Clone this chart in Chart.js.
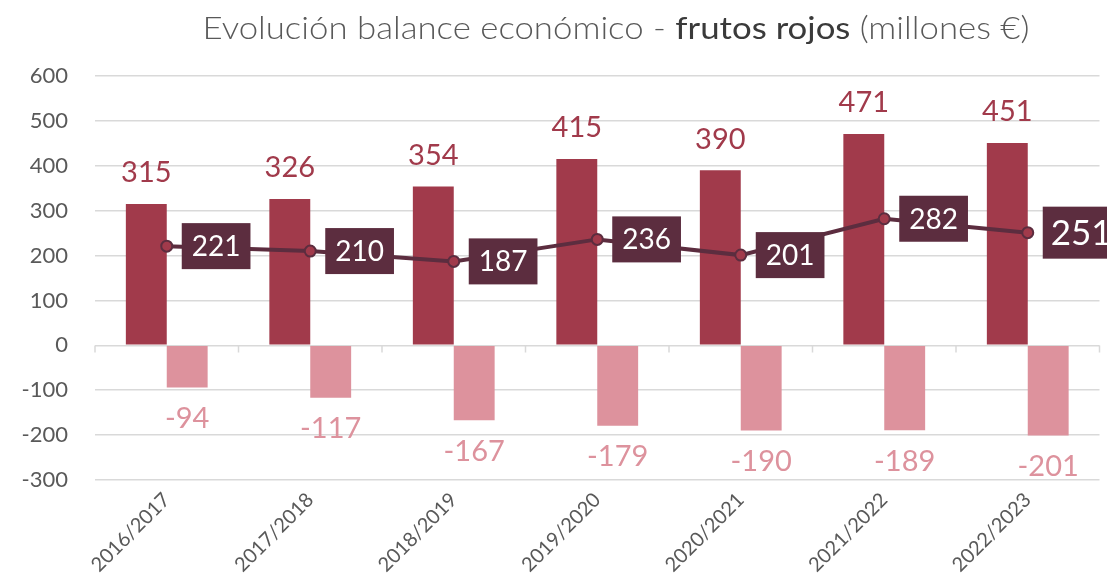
<!DOCTYPE html>
<html>
<head>
<meta charset="utf-8">
<script src="https://cdn.jsdelivr.net/npm/chart.js@4"></script>
<style>
html,body{margin:0;padding:0;background:#fff;}
#wrap{width:1107px;height:577px;position:relative;}
</style>
</head>
<body>
<div id="wrap"><canvas id="c" width="1107" height="577"></canvas></div>
<script>
const categories = ['2016/2017','2017/2018','2018/2019','2019/2020','2020/2021','2021/2022','2022/2023'];
const exportsValues = [315, 326, 354, 415, 390, 471, 451];
const importsValues = [-94, -117, -167, -179, -190, -189, -201];
const balanceValues = [221, 210, 187, 236, 201, 282, 251];
const yTicks = [-300, -200, -100, 0, 100, 200, 300, 400, 500, 600];

const FONT = 'Lato, "Open Sans", sans-serif';
const C_DARK = '#A13A4B';
const C_PINK = '#DD929D';
const C_LINE = '#5C2D3F';
const C_GRID = '#D9D9D9';
const C_TEXT = '#595959';

const titlePlugin = {
  id: 'mixedTitle',
  afterDraw(chart) {
    const ctx = chart.ctx;
    const parts = [
      {t: 'Evolución balance económico - ', f: '300 31px ' + FONT, c: '#595959'},
      {t: 'frutos rojos', f: '400 31px ' + FONT, c: '#3A3A3A'},
      {t: ' (millones €)', f: '300 31px ' + FONT, c: '#595959'}
    ];
    ctx.save();
    let total = 0;
    parts.forEach(p => { ctx.font = p.f; p.w = ctx.measureText(p.t).width; total += p.w; });
    const targetW = 827;
    const sx = targetW / total;
    const x0 = 616 - targetW / 2;
    ctx.translate(x0, 0);
    ctx.scale(sx, 1);
    let x = 0;
    ctx.textBaseline = 'alphabetic';
    parts.forEach(p => { ctx.font = p.f; ctx.fillStyle = p.c; ctx.fillText(p.t, x, 39); x += p.w; });
    ctx.restore();
  }
};

const axisPlugin = {
  id: 'zeroAxis',
  beforeDatasetsDraw(chart) {
    const ctx = chart.ctx;
    const xs = chart.scales.x, ys = chart.scales.y;
    const y0 = Math.round(ys.getPixelForValue(0)) + 0.5;
    ctx.save();
    ctx.strokeStyle = C_GRID;
    ctx.lineWidth = 1.5;
    ctx.beginPath();
    const n = categories.length;
    const step = (xs.right - xs.left) / n;
    for (let i = 0; i <= n; i++) {
      const x = xs.left + i * step;
      ctx.moveTo(x, y0);
      ctx.lineTo(x, y0 + 7);
    }
    ctx.stroke();
    ctx.restore();
  }
};

const labelPlugin = {
  id: 'valueLabels',
  afterDatasetsDraw(chart) {
    const ctx = chart.ctx;
    ctx.save();
    ctx.textAlign = 'center';
    ctx.textBaseline = 'middle';
    chart.getDatasetMeta(0).data.forEach((el, i) => {
      ctx.font = '29px ' + FONT;
      ctx.fillStyle = C_DARK;
      ctx.fillText(String(exportsValues[i]), el.x, el.y - 31);
    });
    chart.getDatasetMeta(1).data.forEach((el, i) => {
      ctx.font = '29px ' + FONT;
      ctx.fillStyle = C_PINK;
      ctx.fillText(String(importsValues[i]), el.x, el.y + 31);
    });
    const metaL = chart.getDatasetMeta(2);
    metaL.data.forEach((el, i) => {
      const last = i === metaL.data.length - 1;
      const fs = last ? 35 : 28;
      ctx.font = fs + 'px ' + FONT;
      const txt = String(balanceValues[i]);
      const w = ctx.measureText(txt).width;
      const padX = last ? 8 : 10;
      const bh = last ? 52 : 46;
      const bx = el.x + 15;
      const bw = w + padX * 2;
      ctx.fillStyle = C_LINE;
      ctx.fillRect(bx, el.y - bh / 2, bw, bh);
      ctx.fillStyle = '#FFFFFF';
      ctx.textAlign = 'left';
      ctx.fillText(txt, bx + padX, el.y + 1);
      ctx.textAlign = 'center';
    });
    ctx.restore();
  }
};

new Chart(document.getElementById('c'), {
  data: {
    labels: categories,
    datasets: [
      {type: 'bar', label: 'Exportaciones', data: exportsValues, backgroundColor: C_DARK,
       categoryPercentage: 0.57, barPercentage: 1.0, order: 2},
      {type: 'bar', label: 'Importaciones', data: importsValues, backgroundColor: C_PINK,
       categoryPercentage: 0.57, barPercentage: 1.0, order: 2},
      {type: 'line', label: 'Balance', data: balanceValues, borderColor: C_LINE, borderWidth: 4,
       pointRadius: 5.5, pointBackgroundColor: C_DARK, pointBorderColor: C_LINE, pointBorderWidth: 2,
       tension: 0, order: 1}
    ]
  },
  options: {
    responsive: false,
    animation: false,
    layout: {padding: {top: 76, right: 4, left: 0, bottom: 0}},
    plugins: {legend: {display: false}, title: {display: false}, tooltip: {enabled: false}},
    scales: {
      x: {
        offset: true,
        grid: {display: false, drawTicks: false},
        border: {display: false},
        ticks: {color: C_TEXT, font: {family: FONT, size: 20}, minRotation: 45, maxRotation: 45, padding: 8},
        afterFit(s) { s.height = 97; }
      },
      y: {
        min: -300, max: 600,
        afterBuildTicks(s) { s.ticks = yTicks.map(v => ({value: v})); },
        grid: {color: C_GRID, lineWidth: 1.5, drawTicks: false},
        border: {display: false},
        ticks: {color: C_TEXT, font: {family: FONT, size: 22}, padding: 27},
        afterFit(s) { s.width = 95; }
      }
    }
  },
  plugins: [axisPlugin, labelPlugin, titlePlugin]
});
</script>
</body>
</html>
